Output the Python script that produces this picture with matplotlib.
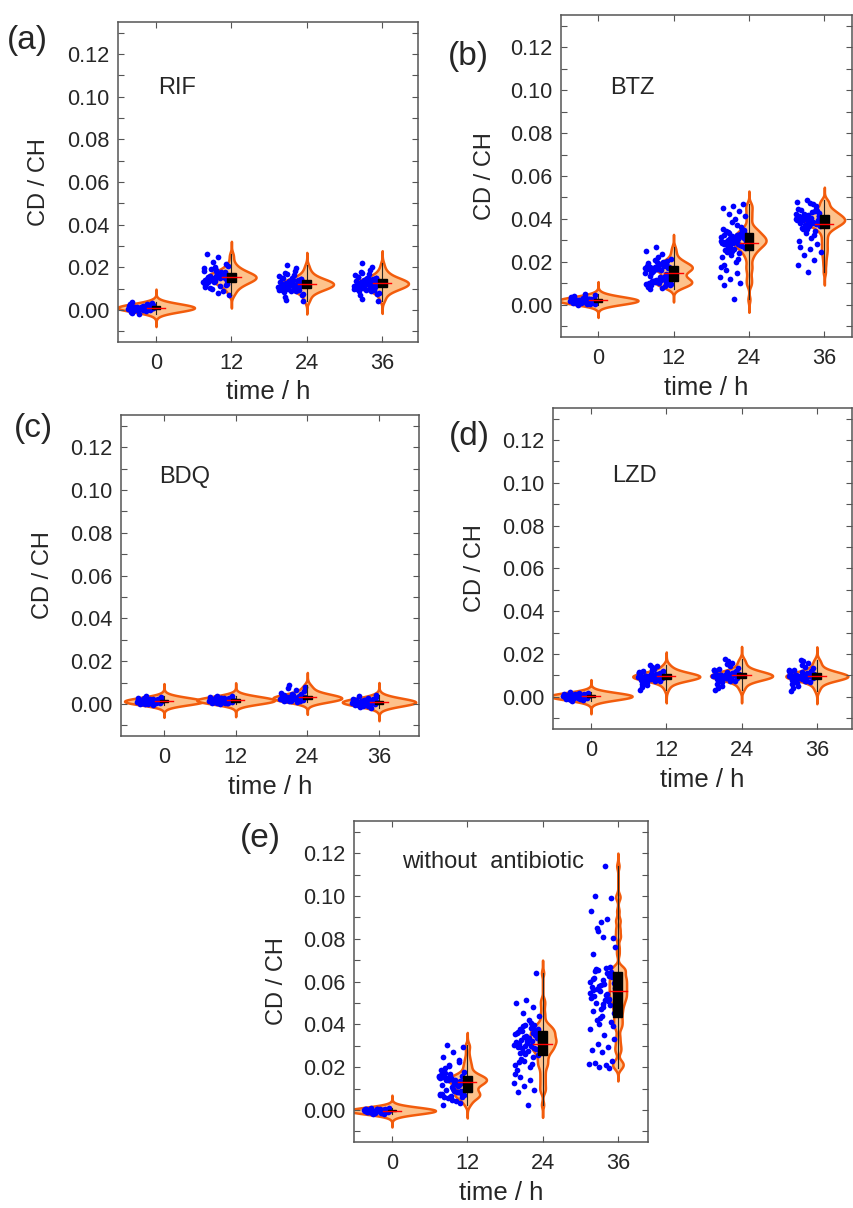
import matplotlib
matplotlib.use("Agg")
import matplotlib.pyplot as plt
import numpy as np
from matplotlib import mlab
from matplotlib.patches import Rectangle
from matplotlib.ticker import MultipleLocator, FormatStrFormatter

plt.rcParams["font.family"] = ["Liberation Sans", "DejaVu Sans"]

TIMES = [0, 12, 24, 36]

# CD/CH ratio per single cell
RIF_0 = [0.0010, 0.0002, 0.0018, -0.0008, 0.0012, 0.0030, 0.0004, 0.0020, 0.0009, -0.0018,
         0.0014, 0.0038, 0.0001, 0.0022, 0.0011, -0.0006, 0.0026, 0.0008, -0.0002, 0.0016,
         0.0013, 0.0003, 0.0007, 0.0024, -0.0012, 0.0010, 0.0033, 0.0000, 0.0015, 0.0019,
         0.0006, 0.0005, -0.0004, 0.0021, 0.0009, 0.0012, 0.0028, -0.0001, 0.0011, 0.0017]
RIF_12 = [0.0155, 0.0142, 0.0168, 0.0121, 0.0183, 0.0135, 0.0160, 0.0112, 0.0195, 0.0148,
          0.0172, 0.0129, 0.0157, 0.0206, 0.0098, 0.0163, 0.0140, 0.0187, 0.0118, 0.0151,
          0.0175, 0.0133, 0.0226, 0.0088, 0.0146, 0.0166, 0.0124, 0.0192, 0.0158, 0.0107,
          0.0138, 0.0179, 0.0153, 0.0247, 0.0069, 0.0145, 0.0170, 0.0127, 0.0161, 0.0215,
          0.0102, 0.0149, 0.0185, 0.0131, 0.0164, 0.0262, 0.0080, 0.0156, 0.0139, 0.0176,
          0.0119, 0.0200, 0.0152, 0.0143, 0.0168]
RIF_24 = [0.0122, 0.0108, 0.0135, 0.0095, 0.0148, 0.0117, 0.0128, 0.0087, 0.0159, 0.0113,
          0.0131, 0.0102, 0.0140, 0.0076, 0.0168, 0.0120, 0.0099, 0.0125, 0.0145, 0.0063,
          0.0182, 0.0110, 0.0133, 0.0092, 0.0152, 0.0118, 0.0127, 0.0048, 0.0196, 0.0105,
          0.0138, 0.0115, 0.0084, 0.0162, 0.0123, 0.0100, 0.0142, 0.0112, 0.0129, 0.0070,
          0.0175, 0.0119, 0.0096, 0.0136, 0.0107, 0.0150, 0.0124, 0.0041, 0.0210, 0.0114,
          0.0132, 0.0090, 0.0144, 0.0121, 0.0104]
RIF_36 = [0.0126, 0.0112, 0.0139, 0.0098, 0.0151, 0.0119, 0.0132, 0.0090, 0.0163, 0.0116,
          0.0135, 0.0105, 0.0144, 0.0080, 0.0172, 0.0123, 0.0101, 0.0129, 0.0148, 0.0068,
          0.0186, 0.0113, 0.0137, 0.0095, 0.0157, 0.0121, 0.0130, 0.0052, 0.0200, 0.0108,
          0.0142, 0.0118, 0.0087, 0.0167, 0.0127, 0.0103, 0.0146, 0.0115, 0.0133, 0.0074,
          0.0179, 0.0122, 0.0099, 0.0140, 0.0110, 0.0155, 0.0128, 0.0044, 0.0218, 0.0117,
          0.0136, 0.0093, 0.0149, 0.0124, 0.0107]

BTZ_0 = [0.0020, 0.0014, 0.0026, 0.0008, 0.0031, 0.0018, 0.0023, 0.0004, 0.0036, 0.0016,
         0.0027, 0.0011, 0.0021, 0.0044, 0.0001, 0.0019, 0.0029, 0.0013, 0.0024, 0.0009,
         0.0033, 0.0017, 0.0022, 0.0006, 0.0040, 0.0015, 0.0025, 0.0012, 0.0020, 0.0030,
         0.0010, 0.0023, 0.0018, 0.0048, 0.0003, 0.0021, 0.0028, 0.0014, 0.0026, 0.0019]
BTZ_12 = [0.0095, 0.0108, 0.0118, 0.0089, 0.0102, 0.0125, 0.0112, 0.0080, 0.0099, 0.0115,
          0.0106, 0.0073, 0.0121, 0.0092, 0.0110, 0.0131, 0.0085, 0.0104, 0.0140, 0.0150,
          0.0162, 0.0170, 0.0178, 0.0185, 0.0166, 0.0192, 0.0174, 0.0158, 0.0199, 0.0181,
          0.0168, 0.0205, 0.0176, 0.0188, 0.0214, 0.0160, 0.0183, 0.0196, 0.0225, 0.0172,
          0.0155, 0.0238, 0.0252, 0.0268, 0.0145, 0.0135, 0.0128, 0.0097, 0.0113, 0.0187,
          0.0165, 0.0201, 0.0179, 0.0093, 0.0116, 0.0148, 0.0209, 0.0086, 0.0100, 0.0169]
BTZ_24 = [0.0295, 0.0310, 0.0278, 0.0325, 0.0262, 0.0340, 0.0301, 0.0285, 0.0318, 0.0250,
          0.0348, 0.0292, 0.0305, 0.0270, 0.0333, 0.0240, 0.0355, 0.0288, 0.0315, 0.0258,
          0.0327, 0.0298, 0.0230, 0.0362, 0.0282, 0.0308, 0.0265, 0.0338, 0.0215, 0.0290,
          0.0320, 0.0275, 0.0345, 0.0200, 0.0303, 0.0268, 0.0330, 0.0185, 0.0296, 0.0312,
          0.0245, 0.0370, 0.0175, 0.0286, 0.0322, 0.0255, 0.0400, 0.0412, 0.0425, 0.0438,
          0.0450, 0.0462, 0.0470, 0.0163, 0.0150, 0.0128, 0.0118, 0.0100, 0.0092, 0.0025,
          0.0350, 0.0280, 0.0308, 0.0225, 0.0385]
BTZ_36 = [0.0390, 0.0402, 0.0378, 0.0415, 0.0365, 0.0428, 0.0395, 0.0384, 0.0410, 0.0355,
          0.0438, 0.0392, 0.0405, 0.0372, 0.0420, 0.0345, 0.0447, 0.0388, 0.0412, 0.0360,
          0.0432, 0.0398, 0.0335, 0.0458, 0.0381, 0.0406, 0.0368, 0.0425, 0.0325, 0.0393,
          0.0418, 0.0376, 0.0442, 0.0310, 0.0400, 0.0370, 0.0435, 0.0298, 0.0386, 0.0414,
          0.0352, 0.0470, 0.0480, 0.0488, 0.0285, 0.0270, 0.0258, 0.0245, 0.0230, 0.0210,
          0.0185, 0.0152, 0.0396, 0.0408, 0.0382, 0.0422, 0.0362, 0.0445, 0.0389, 0.0475]

BDQ_0 = [0.0012, 0.0006, 0.0017, 0.0000, 0.0022, 0.0009, 0.0014, -0.0003, 0.0027, 0.0010,
         0.0018, 0.0004, 0.0013, 0.0031, -0.0001, 0.0015, 0.0008, 0.0020, 0.0012, 0.0005,
         0.0024, 0.0009, 0.0014, 0.0002, 0.0019, 0.0013, 0.0006, 0.0029, 0.0010, 0.0016,
         0.0001, 0.0023, 0.0012, 0.0007, 0.0015, 0.0035, 0.0003, 0.0013, 0.0018, 0.0009]
BDQ_12 = [0.0017, 0.0011, 0.0022, 0.0006, 0.0027, 0.0014, 0.0019, 0.0002, 0.0032, 0.0013,
          0.0023, 0.0008, 0.0018, 0.0036, 0.0003, 0.0020, 0.0012, 0.0026, 0.0016, 0.0009,
          0.0029, 0.0013, 0.0019, 0.0004, 0.0024, 0.0017, 0.0010, 0.0034, 0.0014, 0.0021,
          0.0000, 0.0028, 0.0016, 0.0011, 0.0020, 0.0039, 0.0006, 0.0018, 0.0023, 0.0013]
BDQ_24 = [0.0030, 0.0022, 0.0036, 0.0015, 0.0042, 0.0026, 0.0033, 0.0011, 0.0050, 0.0024,
          0.0038, 0.0018, 0.0031, 0.0058, 0.0012, 0.0028, 0.0020, 0.0045, 0.0027, 0.0016,
          0.0065, 0.0023, 0.0034, 0.0013, 0.0040, 0.0029, 0.0019, 0.0072, 0.0025, 0.0035,
          0.0014, 0.0047, 0.0030, 0.0021, 0.0080, 0.0087, 0.0017, 0.0032, 0.0039, 0.0024]
BDQ_36 = [0.0008, 0.0002, 0.0013, -0.0004, 0.0018, 0.0005, 0.0010, -0.0009, 0.0023, 0.0004,
          0.0015, -0.0002, 0.0009, 0.0030, -0.0014, 0.0011, 0.0003, 0.0020, 0.0007, -0.0006,
          0.0026, 0.0006, 0.0012, -0.0019, 0.0016, 0.0008, 0.0001, 0.0035, 0.0005, 0.0014,
          -0.0011, 0.0021, 0.0009, 0.0000, 0.0040, 0.0012, -0.0003, 0.0017, 0.0006, 0.0010]

LZD_0 = [0.0003, -0.0002, 0.0007, -0.0008, 0.0011, 0.0001, 0.0005, -0.0012, 0.0015, 0.0000,
         0.0009, -0.0005, 0.0004, 0.0019, -0.0016, 0.0006, -0.0001, 0.0012, 0.0003, -0.0009,
         0.0017, 0.0002, 0.0008, -0.0014, 0.0010, 0.0004, -0.0003, 0.0021, 0.0001, 0.0006,
         -0.0007, 0.0013, 0.0003, -0.0004, 0.0008, -0.0019, 0.0005, 0.0000, 0.0011, 0.0002]
LZD_12 = [0.0095, 0.0088, 0.0102, 0.0081, 0.0109, 0.0092, 0.0098, 0.0075, 0.0116, 0.0090,
          0.0104, 0.0084, 0.0097, 0.0123, 0.0069, 0.0093, 0.0100, 0.0086, 0.0112, 0.0079,
          0.0130, 0.0094, 0.0091, 0.0106, 0.0062, 0.0138, 0.0087, 0.0099, 0.0083, 0.0110,
          0.0096, 0.0072, 0.0119, 0.0089, 0.0101, 0.0055, 0.0145, 0.0093, 0.0085, 0.0107,
          0.0097, 0.0077, 0.0114, 0.0091, 0.0103, 0.0046, 0.0127, 0.0095, 0.0082, 0.0108,
          0.0032, 0.0150, 0.0098, 0.0088, 0.0100]
LZD_24 = [0.0100, 0.0091, 0.0109, 0.0083, 0.0117, 0.0095, 0.0104, 0.0076, 0.0126, 0.0093,
          0.0112, 0.0086, 0.0101, 0.0135, 0.0068, 0.0097, 0.0106, 0.0088, 0.0121, 0.0080,
          0.0144, 0.0099, 0.0094, 0.0114, 0.0060, 0.0152, 0.0090, 0.0103, 0.0085, 0.0119,
          0.0101, 0.0072, 0.0130, 0.0092, 0.0107, 0.0052, 0.0160, 0.0096, 0.0087, 0.0115,
          0.0102, 0.0078, 0.0124, 0.0095, 0.0110, 0.0042, 0.0168, 0.0100, 0.0084, 0.0113,
          0.0032, 0.0176, 0.0104, 0.0090, 0.0098]
LZD_36 = [0.0098, 0.0089, 0.0107, 0.0081, 0.0115, 0.0093, 0.0102, 0.0074, 0.0124, 0.0091,
          0.0110, 0.0084, 0.0099, 0.0133, 0.0066, 0.0095, 0.0104, 0.0086, 0.0119, 0.0078,
          0.0142, 0.0097, 0.0092, 0.0112, 0.0058, 0.0150, 0.0088, 0.0101, 0.0083, 0.0117,
          0.0099, 0.0070, 0.0128, 0.0090, 0.0105, 0.0050, 0.0158, 0.0094, 0.0085, 0.0113,
          0.0100, 0.0076, 0.0122, 0.0093, 0.0108, 0.0040, 0.0166, 0.0098, 0.0082, 0.0111,
          0.0028, 0.0174, 0.0102, 0.0088, 0.0096]

NONE_0 = [-0.0003, -0.0006, 0.0000, -0.0010, 0.0003, -0.0004, -0.0001, -0.0013, 0.0005, -0.0005,
          0.0001, -0.0008, -0.0002, 0.0007, -0.0016, -0.0003, 0.0002, -0.0007, -0.0004, -0.0011,
          0.0004, -0.0002, -0.0005, -0.0018, 0.0000, -0.0003, -0.0009, 0.0009, -0.0001, -0.0006,
          -0.0014, 0.0002, -0.0004, -0.0007, 0.0001, -0.0020, -0.0002, -0.0005, 0.0003, -0.0003]
NONE_12 = [0.0130, 0.0145, 0.0118, 0.0152, 0.0108, 0.0160, 0.0138, 0.0125, 0.0148, 0.0168,
           0.0134, 0.0155, 0.0122, 0.0175, 0.0142, 0.0112, 0.0185, 0.0150, 0.0128, 0.0195,
           0.0140, 0.0158, 0.0210, 0.0222, 0.0248, 0.0270, 0.0295, 0.0302, 0.0085, 0.0072,
           0.0065, 0.0078, 0.0060, 0.0090, 0.0068, 0.0055, 0.0082, 0.0075, 0.0048, 0.0062,
           0.0095, 0.0040, 0.0070, 0.0058, 0.0030, 0.0022, 0.0100, 0.0135, 0.0147, 0.0120,
           0.0163, 0.0143, 0.0088, 0.0172, 0.0126, 0.0153, 0.0205, 0.0235, 0.0115, 0.0139]
NONE_24 = [0.0315, 0.0340, 0.0290, 0.0365, 0.0275, 0.0380, 0.0325, 0.0300, 0.0355, 0.0260,
           0.0372, 0.0310, 0.0335, 0.0282, 0.0390, 0.0245, 0.0360, 0.0322, 0.0348, 0.0268,
           0.0385, 0.0305, 0.0230, 0.0395, 0.0295, 0.0330, 0.0255, 0.0370, 0.0215, 0.0318,
           0.0345, 0.0285, 0.0378, 0.0200, 0.0328, 0.0272, 0.0358, 0.0185, 0.0312, 0.0338,
           0.0240, 0.0405, 0.0170, 0.0298, 0.0350, 0.0222, 0.0420, 0.0440, 0.0455, 0.0480,
           0.0500, 0.0515, 0.0640, 0.0155, 0.0140, 0.0125, 0.0110, 0.0095, 0.0085, 0.0025,
           0.0368, 0.0288, 0.0320, 0.0208, 0.0395]
NONE_36 = [0.0550, 0.0580, 0.0520, 0.0610, 0.0495, 0.0630, 0.0565, 0.0540, 0.0600, 0.0470,
           0.0645, 0.0530, 0.0590, 0.0455, 0.0655, 0.0510, 0.0575, 0.0440, 0.0620, 0.0500,
           0.0665, 0.0545, 0.0430, 0.0670, 0.0560, 0.0480, 0.0595, 0.0420, 0.0640, 0.0525,
           0.0585, 0.0410, 0.0650, 0.0515, 0.0570, 0.0400, 0.0625, 0.0460, 0.0605, 0.0390,
           0.0660, 0.0535, 0.0380, 0.0555, 0.0490, 0.0615, 0.0350, 0.0330, 0.0310, 0.0295,
           0.0280, 0.0270, 0.0230, 0.0220, 0.0210, 0.0215, 0.0200, 0.0195, 0.0730, 0.0810,
           0.0805, 0.0850, 0.0890, 0.0930, 0.0880, 0.0990, 0.1000, 0.1140, 0.0760, 0.0835]

PANEL_LETTERS = ["(a)", "(b)", "(c)", "(d)", "(e)"]
PANEL_NAMES = ["RIF", "BTZ", "BDQ", "LZD", "without  antibiotic"]
PANEL_GROUPS = [
    [RIF_0, RIF_12, RIF_24, RIF_36],
    [BTZ_0, BTZ_12, BTZ_24, BTZ_36],
    [BDQ_0, BDQ_12, BDQ_24, BDQ_36],
    [LZD_0, LZD_12, LZD_24, LZD_36],
    [NONE_0, NONE_12, NONE_24, NONE_36],
]

W, H = 854, 1208
# layout in pixels: axes (left, top, right, bottom), xlim, name pos (data), letter pos (px)
LAYOUT = [
    dict(box=(118, 22, 418, 342), xlim=(-6.05, 41.7), name=(0.3, 0.104), letter=(27, 40)),
    dict(box=(561, 15, 852, 337), xlim=(-5.9, 40.4), name=(1.9, 0.101), letter=(468, 56)),
    dict(box=(121, 415, 419, 736), xlim=(-7.2, 42.7), name=(-0.8, 0.106), letter=(33, 429)),
    dict(box=(553, 408, 852, 729), xlim=(-6.05, 41.6), name=(3.4, 0.103), letter=(469, 436)),
    dict(box=(354, 821, 648, 1142), xlim=(-6.05, 40.8), name=(1.6, 0.116), letter=(260, 838)),
]

VIOLIN_FACE = "#FDC28C"
VIOLIN_EDGE = "#F25C0C"
FRAME = "#555555"
TEXT = "#262626"
BANDWIDTH = 0.0015


def _px_rect(left, top, right, bottom):
    return [left / W, 1 - bottom / H, (right - left) / W, (bottom - top) / H]


def draw_group(ax, x0, values):
    vals = np.asarray(values, dtype=float)
    # fixed kernel width in data units (factor is relative to the sample std)
    kde = mlab.GaussianKDE(vals, BANDWIDTH / vals.std(ddof=1))
    grid = np.linspace(vals.min() - 4 * BANDWIDTH, vals.max() + 4 * BANDWIDTH, 500)
    dens = kde.evaluate(grid)
    peak = dens.max()
    half = dens / peak * (0.112 * peak ** 0.75)
    ax.fill_betweenx(grid, x0 - half, x0 + half, facecolor=VIOLIN_FACE,
                     edgecolor=VIOLIN_EDGE, lw=1.8, zorder=1)

    frac = (np.arange(len(vals)) * 0.6180339887) % 1.0
    ax.scatter(x0 - 0.4 - 4.2 * frac, vals, s=17, color="#0000FF", lw=0, zorder=2)

    q1, q3 = np.percentile(vals, [25, 75])
    ax.plot([x0, x0], [vals.min(), vals.max()], color="#222222", lw=0.8, zorder=3)
    ax.add_patch(Rectangle((x0 - 0.7, q1), 1.4, q3 - q1, color="black", zorder=4))
    m = vals.mean()
    ax.plot([x0 - 1.45, x0 + 1.45], [m, m], color="red", lw=1.0, zorder=5)


def style_axes(ax, xlim):
    ax.set_xlim(*xlim)
    ax.set_ylim(-0.015, 0.135)
    ax.set_xticks(TIMES)
    ax.set_yticks(np.arange(0, 0.121, 0.02))
    ax.yaxis.set_minor_locator(MultipleLocator(0.01))
    ax.yaxis.set_major_formatter(FormatStrFormatter("%.2f"))
    ax.tick_params(which="both", direction="in", top=True, right=True,
                   length=4, width=0.8, color=FRAME, labelsize=15.7, labelcolor=TEXT)
    ax.tick_params(axis="x", pad=8)
    ax.tick_params(axis="y", pad=6)
    for sp in ax.spines.values():
        sp.set_color(FRAME)
        sp.set_linewidth(1.1)
    ax.set_xlabel("time / h", fontsize=18.5, color=TEXT)
    ax.set_ylabel("CD / CH", fontsize=17, color=TEXT)
    ax.xaxis.set_label_coords(0.5, -0.12)
    ax.yaxis.set_label_coords(-0.225, 0.5)


fig = plt.figure(figsize=(W / 100, H / 100), dpi=100)

for letter, name, groups, lay in zip(PANEL_LETTERS, PANEL_NAMES, PANEL_GROUPS, LAYOUT):
    ax = fig.add_axes(_px_rect(*lay["box"]))
    for t, vals in zip(TIMES, groups):
        draw_group(ax, t, vals)
    style_axes(ax, lay["xlim"])
    ax.text(lay["name"][0], lay["name"][1], name, fontsize=17, color=TEXT,
            ha="left", va="center")
    fig.text(lay["letter"][0] / W, 1 - lay["letter"][1] / H, letter, fontsize=24,
             color=TEXT, ha="center", va="center")

fig.savefig("out.png", dpi=100)
